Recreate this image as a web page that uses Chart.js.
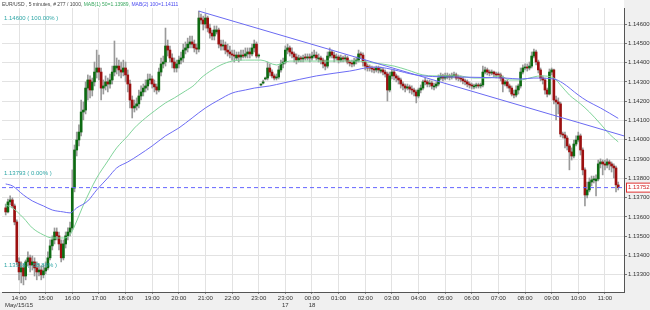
<!DOCTYPE html>
<html><head><meta charset="utf-8">
<script src="https://cdn.jsdelivr.net/npm/chart.js@4/dist/chart.umd.min.js"></script>
<style>html,body{margin:0;padding:0;background:#fff;}canvas{display:block;}</style>
</head><body>
<canvas id="c" width="650" height="310"></canvas>
<script>
// ---- data ----
const hourIdx = [6,18,30,42,54,66,78,90,102,114,126,138,150,162,174,186,198,210,222,234,246,258,270];
const hourLabels = [["14:00","May/15/15"],"15:00","16:00","17:00","18:00","19:00","20:00","21:00","22:00","23:00",["23:00","17"],["00:00","18"],"01:00","02:00","03:00","04:00","05:00","06:00","07:00","08:00","09:00","10:00","11:00"];
const yTicks = [1.133,1.134,1.135,1.136,1.137,1.138,1.139,1.140,1.141,1.142,1.143,1.144,1.145,1.146];

const opens = [
1.13647,1.13626,1.13678,1.13688,1.13657,1.13574,1.13367,1.13315,1.13336,1.13294,
1.13367,1.13388,1.13351,1.13367,1.13336,1.13315,1.13325,1.13300,1.13320,1.13336,
1.13388,1.13450,1.13481,1.13522,1.13502,1.13460,1.13388,1.13460,1.13502,1.13522,
1.13543,1.13750,1.13947,1.13999,1.14040,1.14144,1.14154,1.14268,1.14310,1.14258,
1.14300,1.14351,1.14372,1.14351,1.14268,1.14279,1.14300,1.14289,1.14310,1.14351,
1.14372,1.14382,1.14362,1.14351,1.14372,1.14336,1.14289,1.14206,1.14165,1.14175,
1.14186,1.14227,1.14248,1.14268,1.14279,1.14310,1.14315,1.14289,1.14274,1.14258,
1.14351,1.14393,1.14403,1.14486,1.14465,1.14424,1.14403,1.14372,1.14393,1.14413,
1.14424,1.14465,1.14476,1.14496,1.14507,1.14496,1.14476,1.14470,1.14631,1.14621,
1.14600,1.14631,1.14579,1.14553,1.14538,1.14559,1.14569,1.14496,1.14486,1.14491,
1.14465,1.14455,1.14445,1.14439,1.14424,1.14439,1.14429,1.14439,1.14434,1.14445,
1.14455,1.14445,1.14476,1.14496,1.14434,1.14284,1.14294,1.14315,1.14320,1.14372,
1.14351,1.14331,1.14320,1.14325,1.14362,1.14393,1.14403,1.14465,1.14476,1.14455,
1.14445,1.14429,1.14413,1.14424,1.14419,1.14429,1.14424,1.14429,1.14424,1.14434,
1.14439,1.14419,1.14424,1.14413,1.14393,1.14382,1.14434,1.14455,1.14439,1.14424,
1.14429,1.14413,1.14424,1.14419,1.14424,1.14403,1.14398,1.14393,1.14408,1.14413,
1.14445,1.14439,1.14403,1.14382,1.14377,1.14372,1.14367,1.14362,1.14372,1.14356,
1.14362,1.14351,1.14341,1.14258,1.14331,1.14351,1.14331,1.14320,1.14310,1.14289,
1.14279,1.14268,1.14274,1.14263,1.14258,1.14248,1.14227,1.14258,1.14268,1.14305,
1.14300,1.14289,1.14294,1.14274,1.14279,1.14289,1.14320,1.14331,1.14320,1.14325,
1.14331,1.14325,1.14331,1.14336,1.14325,1.14320,1.14315,1.14305,1.14300,1.14289,
1.14284,1.14274,1.14279,1.14284,1.14279,1.14284,1.14351,1.14362,1.14351,1.14346,
1.14351,1.14341,1.14341,1.14336,1.14320,1.14289,1.14300,1.14279,1.14268,1.14237,
1.14232,1.14258,1.14279,1.14351,1.14372,1.14377,1.14372,1.14382,1.14434,1.14455,
1.14403,1.14362,1.14320,1.14310,1.14258,1.14237,1.14351,1.14362,1.14206,1.14196,
1.14186,1.14030,1.14025,1.14009,1.13968,1.13937,1.13916,1.13978,1.13999,1.14020,
1.13947,1.13844,1.13714,1.13740,1.13781,1.13792,1.13787,1.13797,1.13875,1.13885,
1.13875,1.13869,1.13885,1.13875,1.13864,1.13854,1.13766];
const highs = [
1.13667,1.13693,1.13709,1.13699,1.13667,1.13585,1.13388,1.13367,1.13357,1.13377,
1.13419,1.13403,1.13398,1.13388,1.13367,1.13357,1.13346,1.13351,1.13367,1.13419,
1.13481,1.13502,1.13543,1.13543,1.13522,1.13481,1.13481,1.13522,1.13543,1.13574,
1.13844,1.13973,1.14040,1.14077,1.14206,1.14196,1.14300,1.14336,1.14331,1.14320,
1.14403,1.14465,1.14439,1.14372,1.14310,1.14331,1.14320,1.14341,1.14382,1.14512,
1.14424,1.14413,1.14403,1.14413,1.14403,1.14362,1.14310,1.14227,1.14206,1.14217,
1.14258,1.14279,1.14289,1.14310,1.14341,1.14341,1.14331,1.14310,1.14289,1.14372,
1.14424,1.14434,1.14579,1.14517,1.14486,1.14445,1.14424,1.14413,1.14434,1.14455,
1.14496,1.14507,1.14527,1.14538,1.14538,1.14517,1.14496,1.14667,1.14652,1.14641,
1.14652,1.14641,1.14600,1.14569,1.14590,1.14590,1.14579,1.14517,1.14517,1.14507,
1.14496,1.14486,1.14465,1.14465,1.14455,1.14455,1.14465,1.14465,1.14476,1.14476,
1.14476,1.14496,1.14517,1.14507,1.14445,1.14289,1.14310,1.14325,1.14403,1.14393,
1.14362,1.14341,1.14341,1.14382,1.14413,1.14424,1.14486,1.14496,1.14486,1.14476,
1.14455,1.14445,1.14439,1.14434,1.14439,1.14445,1.14445,1.14445,1.14455,1.14465,
1.14455,1.14445,1.14434,1.14424,1.14413,1.14455,1.14476,1.14465,1.14455,1.14445,
1.14439,1.14439,1.14434,1.14439,1.14434,1.14413,1.14413,1.14424,1.14429,1.14465,
1.14455,1.14450,1.14413,1.14393,1.14388,1.14382,1.14377,1.14382,1.14382,1.14377,
1.14372,1.14362,1.14351,1.14351,1.14362,1.14362,1.14341,1.14331,1.14320,1.14300,
1.14289,1.14289,1.14284,1.14279,1.14268,1.14258,1.14268,1.14284,1.14310,1.14320,
1.14310,1.14310,1.14305,1.14294,1.14300,1.14336,1.14346,1.14341,1.14346,1.14346,
1.14341,1.14346,1.14351,1.14346,1.14336,1.14331,1.14325,1.14315,1.14310,1.14300,
1.14294,1.14289,1.14294,1.14294,1.14294,1.14382,1.14377,1.14372,1.14362,1.14362,
1.14356,1.14351,1.14351,1.14346,1.14331,1.14310,1.14310,1.14289,1.14279,1.14258,
1.14279,1.14289,1.14372,1.14388,1.14393,1.14393,1.14403,1.14455,1.14470,1.14465,
1.14413,1.14372,1.14331,1.14320,1.14268,1.14367,1.14372,1.14367,1.14227,1.14217,
1.14196,1.14040,1.14040,1.14020,1.13978,1.13958,1.13999,1.14020,1.14040,1.14030,
1.13958,1.13854,1.13781,1.13802,1.13812,1.13812,1.13818,1.13895,1.13901,1.13895,
1.13895,1.13901,1.13895,1.13885,1.13875,1.13864,1.13781];
const lows = [
1.13610,1.13621,1.13662,1.13647,1.13559,1.13351,1.13274,1.13258,1.13248,1.13274,
1.13346,1.13315,1.13325,1.13294,1.13274,1.13294,1.13274,1.13284,1.13305,1.13325,
1.13377,1.13429,1.13460,1.13481,1.13429,1.13367,1.13377,1.13439,1.13481,1.13502,
1.13533,1.13730,1.13916,1.13968,1.14020,1.14103,1.14134,1.14206,1.14217,1.14227,
1.14279,1.14320,1.14310,1.14206,1.14237,1.14258,1.14248,1.14268,1.14289,1.14331,
1.14341,1.14331,1.14320,1.14331,1.14300,1.14248,1.14165,1.14113,1.14144,1.14154,
1.14165,1.14206,1.14227,1.14248,1.14258,1.14289,1.14268,1.14248,1.14237,1.14248,
1.14331,1.14372,1.14382,1.14434,1.14403,1.14372,1.14351,1.14351,1.14372,1.14393,
1.14403,1.14445,1.14455,1.14476,1.14476,1.14455,1.14445,1.14455,1.14600,1.14569,
1.14579,1.14559,1.14527,1.14517,1.14517,1.14548,1.14476,1.14465,1.14465,1.14445,
1.14434,1.14424,1.14413,1.14403,1.14413,1.14403,1.14413,1.14424,1.14424,1.14424,
1.14424,1.14434,1.14455,1.14424,1.14424,1.14279,1.14289,1.14310,1.14310,1.14331,
1.14320,1.14310,1.14310,1.14315,1.14351,1.14372,1.14393,1.14445,1.14434,1.14424,
1.14403,1.14393,1.14403,1.14403,1.14403,1.14413,1.14413,1.14403,1.14413,1.14424,
1.14413,1.14403,1.14393,1.14372,1.14362,1.14372,1.14424,1.14424,1.14403,1.14413,
1.14398,1.14403,1.14403,1.14408,1.14393,1.14382,1.14377,1.14382,1.14393,1.14403,
1.14424,1.14382,1.14362,1.14356,1.14356,1.14351,1.14346,1.14351,1.14346,1.14346,
1.14336,1.14325,1.14201,1.14248,1.14315,1.14310,1.14300,1.14289,1.14268,1.14258,
1.14248,1.14258,1.14243,1.14237,1.14227,1.14191,1.14217,1.14243,1.14258,1.14284,
1.14274,1.14274,1.14263,1.14258,1.14268,1.14279,1.14310,1.14305,1.14310,1.14315,
1.14310,1.14315,1.14320,1.14310,1.14305,1.14300,1.14289,1.14284,1.14274,1.14268,
1.14263,1.14263,1.14268,1.14268,1.14268,1.14274,1.14341,1.14336,1.14331,1.14336,
1.14325,1.14320,1.14320,1.14305,1.14248,1.14279,1.14268,1.14248,1.14227,1.14217,
1.14222,1.14237,1.14268,1.14341,1.14362,1.14356,1.14362,1.14372,1.14424,1.14388,
1.14346,1.14305,1.14289,1.14237,1.14222,1.14232,1.14336,1.14186,1.14103,1.14134,
1.14015,1.14009,1.13958,1.13947,1.13844,1.13895,1.13906,1.13968,1.13989,1.13921,
1.13818,1.13657,1.13699,1.13730,1.13761,1.13776,1.13709,1.13787,1.13854,1.13818,
1.13844,1.13854,1.13844,1.13833,1.13802,1.13730,1.13740];
const closes = [
1.13626,1.13678,1.13688,1.13657,1.13574,1.13367,1.13315,1.13336,1.13294,1.13367,
1.13388,1.13351,1.13367,1.13336,1.13315,1.13325,1.13300,1.13320,1.13336,1.13388,
1.13450,1.13481,1.13522,1.13502,1.13460,1.13388,1.13460,1.13502,1.13522,1.13543,
1.13750,1.13947,1.13999,1.14040,1.14144,1.14154,1.14268,1.14310,1.14258,1.14300,
1.14351,1.14372,1.14351,1.14268,1.14279,1.14300,1.14289,1.14310,1.14351,1.14382,
1.14382,1.14362,1.14351,1.14372,1.14336,1.14289,1.14206,1.14165,1.14175,1.14186,
1.14227,1.14248,1.14268,1.14279,1.14310,1.14315,1.14289,1.14274,1.14258,1.14351,
1.14393,1.14403,1.14486,1.14465,1.14424,1.14403,1.14372,1.14393,1.14413,1.14424,
1.14465,1.14476,1.14496,1.14507,1.14496,1.14476,1.14470,1.14631,1.14621,1.14600,
1.14631,1.14579,1.14553,1.14538,1.14569,1.14569,1.14496,1.14486,1.14491,1.14465,
1.14455,1.14445,1.14439,1.14434,1.14439,1.14429,1.14439,1.14434,1.14445,1.14455,
1.14445,1.14476,1.14496,1.14434,1.14434,1.14284,1.14300,1.14320,1.14372,1.14351,
1.14331,1.14320,1.14325,1.14362,1.14393,1.14403,1.14465,1.14476,1.14455,1.14445,
1.14429,1.14413,1.14424,1.14419,1.14424,1.14424,1.14429,1.14424,1.14434,1.14439,
1.14424,1.14424,1.14413,1.14393,1.14382,1.14434,1.14455,1.14439,1.14424,1.14429,
1.14413,1.14424,1.14419,1.14424,1.14403,1.14398,1.14393,1.14408,1.14413,1.14445,
1.14439,1.14403,1.14382,1.14372,1.14372,1.14367,1.14362,1.14372,1.14362,1.14362,
1.14351,1.14341,1.14258,1.14331,1.14351,1.14331,1.14320,1.14310,1.14289,1.14279,
1.14268,1.14274,1.14263,1.14258,1.14248,1.14227,1.14258,1.14268,1.14300,1.14300,
1.14289,1.14294,1.14279,1.14279,1.14289,1.14320,1.14331,1.14320,1.14331,1.14331,
1.14325,1.14331,1.14336,1.14320,1.14320,1.14315,1.14305,1.14300,1.14289,1.14284,
1.14279,1.14279,1.14284,1.14279,1.14284,1.14351,1.14362,1.14351,1.14346,1.14351,
1.14341,1.14336,1.14336,1.14320,1.14289,1.14300,1.14279,1.14268,1.14237,1.14232,
1.14258,1.14279,1.14351,1.14372,1.14377,1.14372,1.14382,1.14434,1.14455,1.14403,
1.14362,1.14320,1.14310,1.14258,1.14237,1.14351,1.14362,1.14206,1.14196,1.14186,
1.14030,1.14025,1.14009,1.13968,1.13937,1.13916,1.13978,1.13999,1.14020,1.13947,
1.13844,1.13714,1.13740,1.13781,1.13792,1.13797,1.13797,1.13875,1.13885,1.13875,
1.13869,1.13885,1.13875,1.13864,1.13854,1.13766,1.13752];

const ma50Idx = [0,3,8,12,17,21,26,29,32,35,38,41,46,50,55,58,63,67,72,76,81,85,88,93,97,102,108,112,115,122,128,140,149,158,166,175,181,188,193,204,211,217,223,227,232,236,241,247,250,254,259,263,268,272,276];
const ma50 = [1.13662,1.13647,1.13595,1.13543,1.13507,1.13491,1.13491,1.13507,1.13579,1.13662,1.13735,1.13802,1.13890,1.13958,1.14020,1.14061,1.14113,1.14149,1.14191,1.14217,1.14253,1.14284,1.14320,1.14362,1.14388,1.14408,1.14413,1.14413,1.14413,1.14388,1.14408,1.14408,1.14408,1.14408,1.14398,1.14382,1.14362,1.14336,1.14331,1.14331,1.14320,1.14320,1.14331,1.14310,1.14310,1.14320,1.14331,1.14320,1.14284,1.14232,1.14186,1.14144,1.14082,1.14030,1.13989];
const ma100Idx = [0,3,8,12,17,21,26,29,32,37,41,46,50,55,60,66,72,78,84,90,96,102,108,112,119,125,140,155,166,188,205,225,232,238,247,251,258,262,268,276];
const ma100 = [1.13771,1.13761,1.13714,1.13683,1.13657,1.13636,1.13626,1.13621,1.13647,1.13683,1.13740,1.13802,1.13854,1.13885,1.13921,1.13968,1.14020,1.14061,1.14113,1.14165,1.14206,1.14242,1.14258,1.14268,1.14279,1.14294,1.14331,1.14356,1.14377,1.14331,1.14325,1.14320,1.14315,1.14320,1.14315,1.14294,1.14232,1.14201,1.14165,1.14111];
const trendIdx = [87, 278.6];
const trendVals = [1.14667, 1.14020];
const lastPrice = 1.13752;
const fibLevels = [1.14600, 1.13793, 1.13318];
const fibLabels = ["1.14600 ( 100.00% )", "1.13793 ( 0.00% )", "1.13318 ( -58.86% )"];
const header = [["EUR/USD , 5 minutes, # 277 / 1000, ", "#444"], ["MAB(1) 50=1.13989, ", "#3aa860"], ["MAB(2) 100=1.14111", "#4a4af0"]];

// ---- styles ----
const FONT = "'Liberation Sans Narrow','Liberation Sans',Arial,sans-serif";
const UP = '#0d6a12', DOWN = '#9c1010';
const idx = closes.map((_, i) => i);

const overlay = {
  id: 'overlay',
  beforeDraw(chart) {
    const {ctx, chartArea: a, width, height} = chart;
    ctx.save();
    ctx.fillStyle = '#f0f0f0';
    ctx.fillRect(0, a.bottom, width, height - a.bottom);
    ctx.fillRect(a.right, 0, width - a.right, a.bottom);
    ctx.fillStyle = '#ffffff';
    ctx.fillRect(0, 0, a.right, a.bottom);
    ctx.restore();
  },
  afterDraw(chart) {
    const {ctx, chartArea: a} = chart;
    const ys = chart.scales.y;
    ctx.save();
    ctx.font = '5px ' + FONT;
    ctx.textBaseline = 'middle';
    let x = 2;
    header.forEach(([t, c]) => { ctx.fillStyle = c; ctx.fillText(t, x, 4.5); x += ctx.measureText(t).width; });
    ctx.font = '6px ' + FONT;
    ctx.fillStyle = '#2ea6a6';
    fibLevels.forEach((v, k) => {
      ctx.fillText(fibLabels[k], a.left + 2, ys.getPixelForValue(v) - 6);
    });
    const py = ys.getPixelForValue(lastPrice);
    const t = lastPrice.toFixed(5);
    const w = ctx.measureText(t).width + 3;
    ctx.fillStyle = '#ffffff';
    ctx.fillRect(a.right + 2.5, py - 4.5, w, 9);
    ctx.strokeStyle = '#e03030';
    ctx.lineWidth = 1;
    ctx.strokeRect(a.right + 2.5, py - 4.5, w, 9);
    ctx.fillStyle = '#d02020';
    ctx.fillText(t, a.right + 4, py);
    ctx.restore();
  }
};

new Chart(document.getElementById('c'), {
  type: 'bar',
  data: {
    datasets: [
      { type: 'line', order: 1, data: trendIdx.map((x, k) => ({x, y: trendVals[k]})), borderColor: '#6a6af2', borderWidth: 1, pointRadius: 0 },
      { type: 'line', order: 1, data: [{x: -1.67, y: lastPrice}, {x: 278.6, y: lastPrice}], borderColor: '#6464ff', borderWidth: 1, borderDash: [4, 3], pointRadius: 0 },
      { type: 'line', order: 2, data: ma100Idx.map((x, k) => ({x, y: ma100[k]})), borderColor: '#6c6cf5', borderWidth: 1, pointRadius: 0, tension: 0.4, cubicInterpolationMode: 'monotone' },
      { type: 'line', order: 2, data: ma50Idx.map((x, k) => ({x, y: ma50[k]})), borderColor: '#80d49a', borderWidth: 1, pointRadius: 0, tension: 0.4, cubicInterpolationMode: 'monotone' },
      { type: 'bar', order: 4, grouped: false, data: idx.map(i => ({x: i, y: [opens[i], closes[i]]})),
        barThickness: 2, minBarLength: 1, borderWidth: 0,
        backgroundColor: c => closes[c.dataIndex] >= opens[c.dataIndex] ? UP : DOWN },
      { type: 'bar', order: 5, grouped: false, data: idx.map(i => ({x: i, y: [lows[i], highs[i]]})),
        barThickness: 1, borderWidth: 0, backgroundColor: '#9a9a9a' }
    ]
  },
  options: {
    responsive: false, animation: false, devicePixelRatio: 1,
    layout: {padding: {left: 2, top: 8, right: 0, bottom: 0}, autoPadding: false},
    plugins: {legend: {display: false}, tooltip: {enabled: false}},
    scales: {
      x: {
        type: 'linear', min: -1.67, max: 278.6, offset: false,
        afterBuildTicks: s => { s.ticks = hourIdx.map(v => ({value: v})); },
        afterFit: s => { s.height = 18; s.paddingLeft = 0; s.paddingRight = 0; },
        ticks: { autoSkip: false, maxRotation: 0, padding: 1, color: '#333', font: {family: FONT, size: 6}, lineHeight: 1.1,
          callback: v => { const k = hourIdx.indexOf(v); return k >= 0 ? hourLabels[k] : ''; } },
        grid: {color: '#e2e2e2', tickLength: 2, tickColor: '#888', offset: false},
        border: {display: true, color: '#555', width: 1}
      },
      y: {
        position: 'right', min: 1.13211, max: 1.14683,
        afterBuildTicks: s => { s.ticks = yTicks.map(v => ({value: v})); },
        afterFit: s => { s.width = 26; s.paddingTop = 0; s.paddingBottom = 0; },
        ticks: { padding: 1, color: '#333', font: {family: FONT, size: 6}, callback: v => Number(v).toFixed(5) },
        grid: {color: '#e2e2e2', tickLength: 3, tickColor: '#777'},
        border: {display: true, color: '#555', width: 1}
      }
    }
  },
  plugins: [overlay]
});
</script>
</body></html>
